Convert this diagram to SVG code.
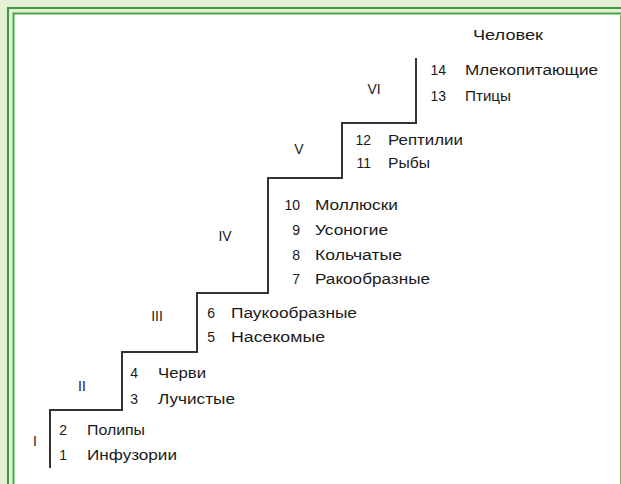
<svg xmlns="http://www.w3.org/2000/svg" width="621" height="484" viewBox="0 0 621 484">
<style>
text{font-family:"Liberation Sans",Arial,sans-serif;font-size:14px;fill:#1a1a1a}
.n{text-anchor:end}
.r{text-anchor:middle}
.stair{fill:none;stroke:#333;stroke-width:2;stroke-linejoin:miter}
</style>
<rect x="0" y="0" width="621" height="484" fill="#e5efd4"/>
<rect x="14" y="14" width="607" height="470" fill="#ffffff"/>
<path d="M8,484 V8 H621" fill="none" stroke="#3c9a3c" stroke-width="2"/>
<path d="M13.5,484 V13.5 H621" fill="none" stroke="#46a846" stroke-width="2"/>
<line x1="620.5" y1="15" x2="620.5" y2="484" stroke="#6cbf66" stroke-width="1"/>
<g id="connectors">
<path class="stair" d="M50,468 V410 H122 V352 H197 V293 H268 V178 H342 V123 H416 V58"/>
</g>
<g id="top">
<text x="473" y="40" textLength="70" lengthAdjust="spacingAndGlyphs">Человек</text>
</g>
<g id="step6">
<text class="r" x="374" y="94">VI</text>
<text class="n" x="446" y="75">14</text>
<text x="465" y="75" textLength="133" lengthAdjust="spacingAndGlyphs">Млекопитающие</text>
<text class="n" x="446" y="101">13</text>
<text x="465" y="101" textLength="46" lengthAdjust="spacingAndGlyphs">Птицы</text>
</g>
<g id="step5">
<text class="r" x="299" y="154">V</text>
<text class="n" x="371" y="145">12</text>
<text x="388" y="145" textLength="75" lengthAdjust="spacingAndGlyphs">Рептилии</text>
<text class="n" x="371" y="168">11</text>
<text x="388" y="168" textLength="42" lengthAdjust="spacingAndGlyphs">Рыбы</text>
</g>
<g id="step4">
<text class="r" x="225" y="241">IV</text>
<text class="n" x="300" y="210">10</text>
<text x="315" y="210" textLength="83" lengthAdjust="spacingAndGlyphs">Моллюски</text>
<text class="n" x="300" y="235">9</text>
<text x="315" y="235" textLength="73" lengthAdjust="spacingAndGlyphs">Усоногие</text>
<text class="n" x="300" y="260">8</text>
<text x="315" y="260" textLength="87" lengthAdjust="spacingAndGlyphs">Кольчатые</text>
<text class="n" x="300" y="284">7</text>
<text x="315" y="284" textLength="115" lengthAdjust="spacingAndGlyphs">Ракообразные</text>
</g>
<g id="step3">
<text class="r" x="157" y="321">III</text>
<text class="n" x="215" y="318">6</text>
<text x="231" y="318" textLength="126" lengthAdjust="spacingAndGlyphs">Паукообразные</text>
<text class="n" x="215" y="342">5</text>
<text x="231" y="342" textLength="94" lengthAdjust="spacingAndGlyphs">Насекомые</text>
</g>
<g id="step2">
<text class="r" x="82" y="391">II</text>
<text class="n" x="138" y="378">4</text>
<text x="158" y="378" textLength="48" lengthAdjust="spacingAndGlyphs">Черви</text>
<text class="n" x="138" y="404">3</text>
<text x="158" y="404" textLength="77" lengthAdjust="spacingAndGlyphs">Лучистые</text>
</g>
<g id="step1">
<text class="r" x="35" y="446">I</text>
<text class="n" x="67" y="435">2</text>
<text x="87" y="435" textLength="58" lengthAdjust="spacingAndGlyphs">Полипы</text>
<text class="n" x="67" y="460">1</text>
<text x="87" y="460" textLength="90" lengthAdjust="spacingAndGlyphs">Инфузории</text>
</g>
</svg>
